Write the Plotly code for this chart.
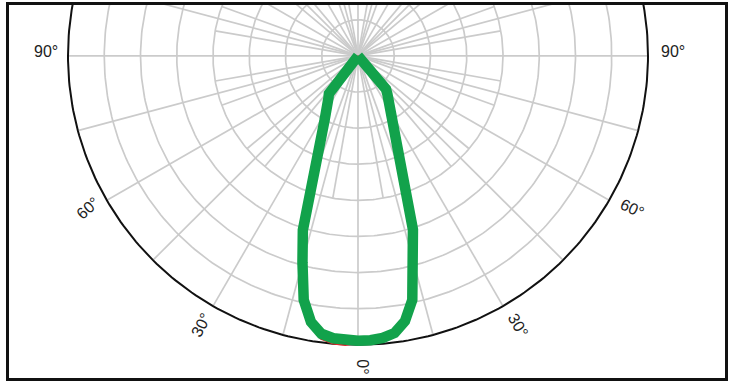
import numpy as np
import plotly.graph_objects as go

# ---- data (luminous intensity, arbitrary ring units) ----
gamma = [0, 2.5, 5, 7.5, 10, 12.5, 15, 17.5, 20, 22.5, 25, 27.5, 30, 32.5, 35, 37.5, 40, 45, 90, 180]
green_left = [7.89, 7.88, 7.85, 7.76, 7.48, 6.92, 5.92, 5.06, 3.62, 2.84, 2.34, 1.99, 1.73, 1.54, 1.42, 1.32, 1.25, 0, 0, 0]
green_right = [7.89, 7.88, 7.84, 7.74, 7.46, 6.92, 5.90, 5.04, 3.70, 3.02, 2.50, 2.10, 1.84, 1.60, 1.46, 1.33, 1.20, 0, 0, 0]
red_left = [7.95, 8.02, 8.00, 7.90, 7.60, 7.02, 5.95, 5.00, 3.50, 2.68, 2.20, 1.86, 1.62, 1.46, 1.36, 1.27, 1.20, 0, 0, 0]
red_right = [7.93, 7.92, 7.88, 7.80, 7.55, 7.04, 6.04, 5.12, 3.58, 2.88, 2.38, 1.98, 1.72, 1.50, 1.38, 1.26, 1.15, 0, 0, 0]

ring_radii = [1, 2, 3, 4, 5, 6, 7]
outer_radius = 8
spoke_major = list(range(0, 360, 15))      # full-length spokes
spoke_minor = [a for a in range(0, 360, 10) if a % 15 != 0]  # inner spokes
minor_extent = 4
tick_angles = [-90, -60, -30, 0, 30, 60, 90]
tick_text = ["90°", "60°", "30°", "0°", "30°", "60°", "90°"]
tick_rot = [0, -42, -62, 90, 60, 25, 0]
tick_dx = [3, 2, 0, 5, 3, 2, 0]
tick_dy = [4, 4, 2, 3, 2, 4, 4]

GRID = "#cbcbcb"


def xy(angle_deg, r):
    a = np.radians(np.asarray(angle_deg, dtype=float))
    r = np.asarray(r, dtype=float)
    return r * np.sin(a), -r * np.cos(a)


def curve(left, right):
    ang = [-g for g in gamma[::-1]] + gamma[1:]
    rr = list(left[::-1]) + list(right[1:])
    return xy(ang, rr)


fig = go.Figure()

# rings
t = np.arange(0, 361, 1)
for rad in ring_radii:
    x, y = xy(t, np.full(t.shape, rad))
    fig.add_trace(go.Scatter(x=x, y=y, mode="lines", line=dict(color=GRID, width=1.7),
                             hoverinfo="skip", showlegend=False))

# spokes
sx, sy = [], []
for a in spoke_major:
    x, y = xy([a, a], [0, outer_radius])
    sx += list(x) + [None]
    sy += list(y) + [None]
for a in spoke_minor:
    x, y = xy([a, a], [0, minor_extent])
    sx += list(x) + [None]
    sy += list(y) + [None]
fig.add_trace(go.Scatter(x=sx, y=sy, mode="lines", line=dict(color=GRID, width=1.7),
                         hoverinfo="skip", showlegend=False))

# outer ring
x, y = xy(t, np.full(t.shape, outer_radius))
fig.add_trace(go.Scatter(x=x, y=y, mode="lines", line=dict(color="#111111", width=2),
                         hoverinfo="skip", showlegend=False))

# curves
x, y = curve(red_left, red_right)
fig.add_trace(go.Scatter(x=x, y=y, mode="lines", name="C90-C270",
                         line=dict(color="#e0262a", width=1.6), showlegend=False))
x, y = curve(green_left, green_right)
fig.add_trace(go.Scatter(x=x, y=y, mode="lines", name="C0-C180",
                         line=dict(color="#12a24b", width=10.5), showlegend=False))

# angle labels
lab_r = 8.68
for a, txt, rot, dx, dy in zip(tick_angles, tick_text, tick_rot, tick_dx, tick_dy):
    lx, ly = xy([a], [lab_r])
    fig.add_annotation(x=float(lx[0]), y=float(ly[0]), xref="x", yref="y", text=txt,
                       showarrow=False, textangle=rot, xshift=dx, yshift=dy,
                       font=dict(family="Liberation Sans, Arial, sans-serif", size=16, color="#222222"))

W, H = 734, 381
ml, mr, mt, mb = 9, 9, 2, 3
pw, ph = W - ml - mr, H - mt - mb
cx, cy = 358 - ml, 53.3 - mt
ux, uy = 36.25, 36.4

fig.update_xaxes(range=[-cx / ux, (pw - cx) / ux], showgrid=False, zeroline=False,
                 showticklabels=False, ticks="", showline=True, mirror=True,
                 linecolor="#111111", linewidth=2.5)
fig.update_yaxes(range=[-(ph - cy) / uy, cy / uy], showgrid=False, zeroline=False,
                 showticklabels=False, ticks="", showline=True, mirror=True,
                 linecolor="#111111", linewidth=2.5)
fig.update_layout(width=W, height=H, margin=dict(l=ml, r=mr, t=mt, b=mb),
                  paper_bgcolor="white", plot_bgcolor="white")

fig.write_html("out.html", config={"displayModeBar": False},
               post_script="document.body.style.margin='0';document.body.style.overflow='hidden';")
